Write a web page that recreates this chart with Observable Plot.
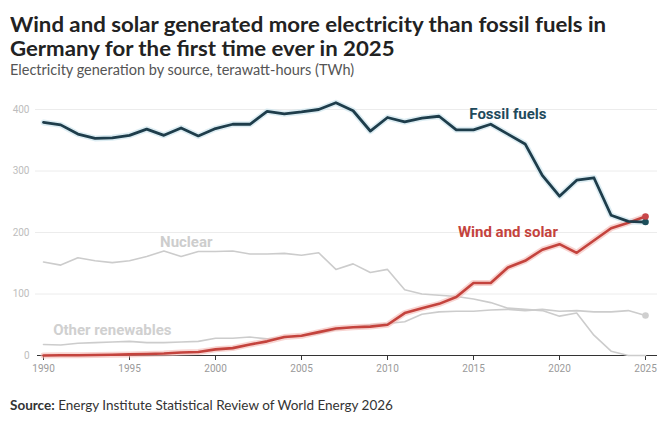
<!DOCTYPE html>
<html>
<head>
<meta charset="utf-8">
<script src="https://cdn.jsdelivr.net/npm/d3@7"></script>
<script src="https://cdn.jsdelivr.net/npm/@observablehq/plot@0.6"></script>
<style>
  body { margin: 0; background: #fff; width: 669px; height: 433px; overflow: hidden; position: relative; }
  .title { position: absolute; left: 10px; font: bold 20px Lato, sans-serif; line-height: 24px; height: 24px; color: #222; white-space: nowrap; transform: scaleX(1.11); transform-origin: 0 50%; }
  #t1 { top: 12px; }
  #t2 { top: 36px; }
  #subtitle { position: absolute; left: 10px; top: 61px; font: 14.5px Lato, sans-serif; line-height: 17.4px; color: #555; white-space: nowrap; }
  #chart { position: absolute; left: 0; top: 88px; }
  #caption { position: absolute; left: 10px; top: 397px; font: 13.5px Lato, sans-serif; color: #333; white-space: nowrap; }
</style>
</head>
<body>
<div class="title" id="t1">Wind and solar generated more electricity than fossil fuels in</div>
<div class="title" id="t2">Germany for the first time ever in 2025</div>
<div id="subtitle">Electricity generation by source, terawatt-hours (TWh)</div>
<div id="chart"></div>
<div id="caption"><b>Source:</b> Energy Institute Statistical Review of World Energy 2026</div>
<script>
const years = [1990,1991,1992,1993,1994,1995,1996,1997,1998,1999,2000,2001,2002,2003,2004,2005,2006,2007,2008,2009,2010,2011,2012,2013,2014,2015,2016,2017,2018,2019,2020,2021,2022,2023,2024,2025];
const fossilFuels = [379,375,360,353,354,358,368,358,370,357,369,376,376,397,393,396,400,411,398,365,387,380,386,389,367,367,376,360,344,293,259,285,289,228,218,217];
const windSolar = [0.1,0.3,0.5,0.8,1.2,1.8,2.4,3.2,4.8,5.6,10,12,18,23,30,32,38,44,46,47,50,69,77,84,95,118,118,143,154,172,181,167,187,207,216,226];
const nuclear = [152,147,159,154,151,154,161,170,161,169,169,170,165,165,166,163,167,140,149,135,140,107,100,98,96,92,86,77,75,73,64,69,33,7,0,0];
const otherRenewables = [18,17,20,21,22,23,21,21,22,23,28,28,30,27,29,32,36,42,46,50,52,55,67,71,72,72,74,75,73,75,72,73,71,71,73,65];
const xTicks = [1990,1995,2000,2005,2010,2015,2020,2025];
const yTicks = [0,100,200,300,400];
const seriesNames = ["Fossil fuels","Wind and solar","Nuclear","Other renewables"];

const seriesValues = [fossilFuels, windSolar, nuclear, otherRenewables];
const rows = seriesNames.flatMap((name, i) => years.map((year, j) => ({name, year, value: seriesValues[i][j]})));
const byName = name => rows.filter(d => d.name === name);
const last = rows.filter(d => d.year === 2025 && d.name !== "Nuclear");

const colors = {"Fossil fuels": "#1e3d4b", "Wind and solar": "#c4433d", "Nuclear": "#cccccc", "Other renewables": "#cccccc"};
const dotColors = {"Fossil fuels": "#1b4e5a", "Wind and solar": "#c8474a", "Other renewables": "#cfcfcf"};

// label anchor placement (annotation layout)
const labelAnchors = [
  {name: "Fossil fuels", year: 2017, value: 393, fill: "#1f4a5c"},
  {name: "Wind and solar", year: 2017, value: 200, fill: "#c4433d"},
  {name: "Nuclear", year: 1998.3, value: 184, fill: "#cdcdcd"},
  {name: "Other renewables", year: 1994, value: 41, fill: "#d0d0d0"}
];

const chart = Plot.plot({
  width: 669,
  height: 295,
  marginLeft: 43,
  marginRight: 24,
  marginTop: 21,
  marginBottom: 28,
  style: {fontFamily: "Roboto, sans-serif", fontSize: "10px", background: "transparent"},
  x: {domain: [1990, 2025], label: null},
  y: {domain: [0, 400], label: null},
  marks: [
    Plot.ruleY(yTicks.filter(d => d > 0), {stroke: "#ececec", strokeWidth: 1, insetLeft: -8, insetRight: -12}),
    Plot.axisY({ticks: yTicks, tickSize: 0, tickPadding: 14, fill: "#bdbdbd", fontSize: 10, label: null}),
    Plot.axisX({ticks: xTicks, tickSize: 5, tickPadding: 4, fill: "#9a9a9a", stroke: "#333", fontSize: 10, tickFormat: d => String(d), label: null}),
    Plot.ruleY([0], {stroke: "#333", strokeWidth: 1.2, insetLeft: -6, insetRight: -12}),
    Plot.line(byName("Other renewables"), {x: "year", y: "value", stroke: colors["Other renewables"], strokeWidth: 1.6}),
    Plot.line(byName("Nuclear"), {x: "year", y: "value", stroke: colors["Nuclear"], strokeWidth: 1.6}),
    Plot.line(byName("Wind and solar"), {x: "year", y: "value", stroke: "#f3b7b3", strokeWidth: 6, strokeOpacity: 0.6}),
    Plot.line(byName("Fossil fuels"), {x: "year", y: "value", stroke: "#cfe6ee", strokeWidth: 6, strokeOpacity: 0.7}),
    Plot.line(byName("Wind and solar"), {x: "year", y: "value", stroke: colors["Wind and solar"], strokeWidth: 2.6}),
    Plot.line(byName("Fossil fuels"), {x: "year", y: "value", stroke: colors["Fossil fuels"], strokeWidth: 2.8}),
    Plot.dot(last, {x: "year", y: "value", r: 3.3, fill: d => dotColors[d.name], stroke: "none"}),
    Plot.text(labelAnchors, {x: "year", y: "value", text: "name", fill: "fill", fontSize: 15, fontWeight: "bold", textAnchor: "middle"})
  ]
});
document.getElementById("chart").appendChild(chart);
</script>
</body>
</html>
